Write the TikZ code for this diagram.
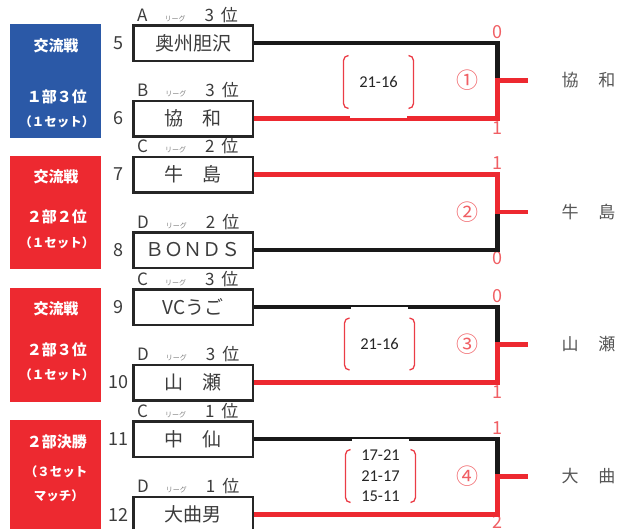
\documentclass[tikz,border=0pt]{standalone}
\usepackage{fontspec}
\setmainfont{Noto Sans CJK JP}
\newfontfamily\scorefont{Carlito}
\definecolor{panelblue}{RGB}{43,89,167}
\definecolor{mainred}{RGB}{237,41,48}
\definecolor{digitred}{RGB}{240,95,100}
\definecolor{brkred}{RGB}{235,60,70}
\definecolor{txtgray}{RGB}{60,60,60}
\definecolor{wingray}{RGB}{85,85,85}
\newcommand{\rg}{{\fontsize{7}{7}\selectfont\color{gray}リーグ}}
\begin{document}
\begin{tikzpicture}[x=1pt,y=-1pt,
  team/.style={draw=black!85,line width=2.5pt,minimum width=119.5pt,minimum height=35.5pt,inner sep=0pt,text=txtgray,font=\fontsize{19}{19}\selectfont},
  panel/.style={inner sep=0pt,minimum width=91pt,minimum height=113.5pt},
  ptitle/.style={text=white,font=\bfseries\fontsize{15}{15}\selectfont},
  psub/.style={text=white,font=\bfseries\fontsize{12.5}{12.5}\selectfont},
  num/.style={text=txtgray,font=\fontsize{18}{18}\selectfont},
  lg/.style={anchor=base west,inner sep=0pt,text=txtgray,font=\fontsize{17}{17}\selectfont},
  loseline/.style={line width=4.5pt,draw=black!90},
  winline/.style={line width=4.5pt,draw=mainred},
  score/.style={fill=white,inner sep=0pt,minimum width=57pt,text=black!85,align=center,font=\scorefont\fontsize{16.5}{20.5}\selectfont},
  brk/.style={draw=brkred,line width=1.3pt,rounded corners=5pt},
  circ/.style={text=digitred,font=\fontsize{22}{22}\selectfont},
  ptnum/.style={text=digitred,font=\fontsize{18}{18}\selectfont},
  win/.style={text=wingray,font=\fontsize{17}{17}\selectfont}]
\clip (0,0) rectangle (627,528);
%
\begin{scope}
\node[panel,fill=panelblue] (p1) at (55.5,80.75) {};
\node[ptitle] (p1a) at (56,46) {交流戦};
\node[ptitle] (p1b) at (57,97) {１部３位};
\node[psub] (p1c) at (57,122) {（１セット）};
\node[team] (t5) at (193,43) {奥州胆沢};
\node[team] (t6) at (193,118.5) {協　和};
\node[num] (n5) at (118,43) {5};
\node[num] (n6) at (118,118.5) {6};
\node[lg] (l5) at (137,21) {A\hspace{17pt}\rg\hspace{19pt}3\hspace{7pt}位};
\node[lg] (l6) at (137,96.5) {B\hspace{17pt}\rg\hspace{19pt}3\hspace{7pt}位};
\node[ptnum] (d5) at (497.5,32) {0};
\node[ptnum] (d6) at (497.5,128) {1};
\coordinate (j1) at (497.5,80.5);
\coordinate (e1) at (528,80.5);
\draw[loseline] (t5.east) -| (j1);
\draw[winline] (t6.east) -| (j1) -- (e1);
\node[score,minimum height=71pt] (s1) at (378.5,82) {21-16};
\draw[brk] ([shift={(-30,-26.5)}]s1.center) -- ++(-5,0) -- ++(0,53) -- ++(5,0);
\draw[brk] ([shift={(30,-26.5)}]s1.center) -- ++(5,0) -- ++(0,53) -- ++(-5,0);
\node[circ] (c1) at (467,80.5) {①};
\node[win] (w1) at (588.5,80.5) {協\hspace{20pt}和};
\end{scope}
%
\begin{scope}[yshift=-131.5pt]
\node[panel,fill=mainred] (p2) at (55.5,80.75) {};
\node[ptitle] (p2a) at (56,45.5) {交流戦};
\node[ptitle] (p2b) at (57,85.5) {２部２位};
\node[psub] (p2c) at (57,111.5) {（１セット）};
\node[team] (t7) at (193,43) {牛　島};
\node[team] (t8) at (193,118.5) {ＢＯＮＤＳ};
\node[num] (n7) at (118,43) {7};
\node[num] (n8) at (118,118.5) {8};
\node[lg] (l7) at (137,21) {C\hspace{17pt}\rg\hspace{19pt}2\hspace{7pt}位};
\node[lg] (l8) at (137,96.5) {D\hspace{17pt}\rg\hspace{19pt}2\hspace{7pt}位};
\node[ptnum] (d7) at (497.5,32) {1};
\node[ptnum] (d8) at (497.5,127) {0};
\coordinate (j2) at (497.5,80.5);
\coordinate (e2) at (528,80.5);
\draw[loseline] (t8.east) -| (j2);
\draw[winline] (t7.east) -| (j2) -- (e2);
\node[circ] (c2) at (467,80.5) {②};
\node[win] (w2) at (588.5,80.5) {牛\hspace{20pt}島};
\end{scope}
%
\begin{scope}[yshift=-264pt]
\node[panel,fill=mainred] (p3) at (55.5,80.75) {};
\node[ptitle] (p3a) at (56,45) {交流戦};
\node[ptitle] (p3b) at (57,86) {２部３位};
\node[psub] (p3c) at (57,111) {（１セット）};
\node[team] (t9) at (193,43) {VCうご};
\node[team] (t10) at (193,118.5) {山　瀬};
\node[num] (n9) at (118,43) {9};
\node[num] (n10) at (118,118.5) {10};
\node[lg] (l9) at (137,21) {C\hspace{17pt}\rg\hspace{19pt}3\hspace{7pt}位};
\node[lg] (l10) at (137,96.5) {D\hspace{17pt}\rg\hspace{19pt}3\hspace{7pt}位};
\node[ptnum] (d9) at (497.5,32) {0};
\node[ptnum] (d10) at (497.5,128) {1};
\coordinate (j3) at (497.5,80.5);
\coordinate (e3) at (528,80.5);
\draw[loseline] (t9.east) -| (j3);
\node[score,minimum height=75pt] (s3) at (379.5,80) {21-16};
\draw[winline] (t10.east) -| (j3) -- (e3);
\draw[brk] ([shift={(-30,-26)}]s3.center) -- ++(-5,0) -- ++(0,52) -- ++(5,0);
\draw[brk] ([shift={(30,-26)}]s3.center) -- ++(5,0) -- ++(0,52) -- ++(-5,0);
\node[circ] (c3) at (467,80.5) {③};
\node[win] (w3) at (588.5,80.5) {山\hspace{20pt}瀬};
\end{scope}
%
\begin{scope}[yshift=-396pt]
\node[panel,fill=mainred] (p4) at (55.5,80.75) {};
\node[ptitle] (p4a) at (57,46) {２部決勝};
\node[psub] (p4b) at (56,76) {（３セット};
\node[psub] (p4c) at (59,100) {マッチ）};
\node[team] (t11) at (193,43) {中　仙};
\node[team] (t12) at (193,118.5) {大曲男};
\node[num] (n11) at (118,43) {11};
\node[num] (n12) at (118,118.5) {12};
\node[lg] (l11) at (137,21) {C\hspace{17pt}\rg\hspace{19pt}1\hspace{7pt}位};
\node[lg] (l12) at (137,96.5) {D\hspace{17pt}\rg\hspace{19pt}1\hspace{7pt}位};
\node[ptnum] (d11) at (497.5,32) {1};
\node[ptnum] (d12) at (497.5,126) {2};
\coordinate (j4) at (497.5,80.5);
\coordinate (e4) at (528,80.5);
\draw[loseline] (t11.east) -| (j4);
\node[score,minimum height=75pt] (s4) at (380.5,80) {17-21\\21-17\\15-11};
\draw[winline] (t12.east) -| (j4) -- (e4);
\draw[brk] ([shift={(-30,-26.5)}]s4.center) -- ++(-5,0) -- ++(0,53) -- ++(5,0);
\draw[brk] ([shift={(30,-26.5)}]s4.center) -- ++(5,0) -- ++(0,53) -- ++(-5,0);
\node[circ] (c4) at (467,80.5) {④};
\node[win] (w4) at (588.5,80.5) {大\hspace{20pt}曲};
\end{scope}
\end{tikzpicture}
\end{document}
